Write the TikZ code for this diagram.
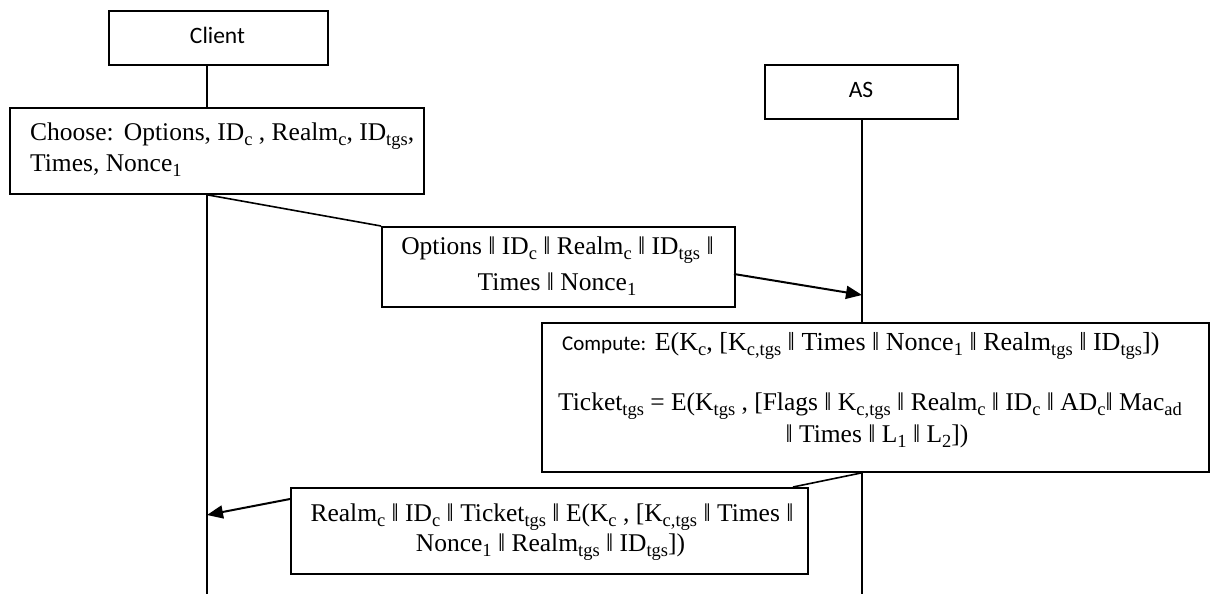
\documentclass[tikz,border=0pt]{standalone}
\usepackage{fontspec}
\setmainfont{Liberation Serif}
\newfontfamily\sansf{Carlito}
\usetikzlibrary{arrows.meta}
\newcommand\lo[1]{\raisebox{-0.21em}{\fontsize{18.5}{18.5}\selectfont #1}}
\newcommand\dbar{‖}
\tikzset{
  box/.style={draw, line width=1.8pt, rectangle, inner sep=0pt, anchor=north west},
  life/.style={line width=1.3pt},
  link/.style={line width=1.6pt},
  msg/.style={line width=2pt, -{Triangle[length=16pt,width=13pt]}},
  txt/.style={inner sep=0pt, font=\fontsize{25.5}{30}\selectfont},
  stxt/.style={inner sep=0pt, font=\sansf\fontsize{23.5}{28}\selectfont},
}
\begin{document}
\begin{tikzpicture}[x=1pt,y=-1pt]
\useasboundingbox (0,0) rectangle (1211,594);
% boxes
\node[box, minimum width=219pt, minimum height=54pt] (client) at (108,10) {};
\node[box, minimum width=414pt, minimum height=86pt] (choose) at (9,107) {};
\node[box, minimum width=193pt, minimum height=54pt] (as) at (764,64) {};
\node[box, minimum width=353pt, minimum height=80pt] (msg1) at (381,226) {};
\node[box, minimum width=667pt, minimum height=149pt] (compute) at (541,322) {};
\node[box, minimum width=517pt, minimum height=86pt] (msg2) at (290,487) {};
% lifeline reference coordinates
\coordinate (cl) at (207,0);
\coordinate (al) at (862,0);
\coordinate (cbot) at (207,594);
\coordinate (abot) at (862,594);
\coordinate (a1e) at (862,295);
\coordinate (a2s) at (290,499);
\coordinate (a2e) at (207,515);
\coordinate (a1s) at (734,274);
\coordinate (l2e) at (793,487);
% lifelines
\draw[life] (client.south -| cl) -- (choose.north -| cl);
\draw[life] (choose.south -| cl) -- (cbot);
\draw[life] (as.south -| al) -- (compute.north -| al);
\draw[life] (compute.south -| al) -- (abot);
% connectors
\draw[link] (choose.south -| cl) -- (msg1.north west);
\draw[msg] (a1s) -- (a1e);
\draw[link] (compute.south -| al) -- (l2e);
\draw[msg] (a2s) -- (a2e);
% texts
\node[stxt, anchor=base] (clientT) at (217.5,44) {Client};
\node[stxt, anchor=base] (asT) at (861,97) {AS};
\node[txt, anchor=base west] (chooseA) at (30,140) {Choose:\hspace{0.4em}Options, ID\lo{c} , Realm\lo{c}, ID\lo{tgs},};
\node[txt, anchor=base west] (chooseB) at (30,171) {Times, Nonce\lo{1}};
\node[txt, anchor=base] (msg1A) at (557.5,254) {Options \dbar{} ID\lo{c} \dbar{} Realm\lo{c} \dbar{} ID\lo{tgs} \dbar};
\node[txt, anchor=base] (msg1B) at (557,290) {Times \dbar{} Nonce\lo{1}};
\node[txt, anchor=base west, font=\fontsize{26}{30}\selectfont] (computeA) at (562,350) {{\sansf\fontsize{21}{25}\selectfont Compute:} E(K\lo{c}, [K\lo{c,tgs} \dbar{} Times \dbar{} Nonce\lo{1} \dbar{} Realm\lo{tgs} \dbar{} ID\lo{tgs}])};
\node[txt, anchor=base] (computeB) at (870,410) {Ticket\lo{tgs} = E(K\lo{tgs} , [Flags \dbar{} K\lo{c,tgs} \dbar{} Realm\lo{c} \dbar{} ID\lo{c} \dbar{} AD\lo{c}\dbar{} Mac\lo{ad}};
\node[txt, anchor=base] (computeC) at (877,442) {\dbar{} Times \dbar{} L\lo{1} \dbar{} L\lo{2}])};
\node[txt, anchor=base] (msg2A) at (552,521) {Realm\lo{c} \dbar{} ID\lo{c} \dbar{} Ticket\lo{tgs} \dbar{} E(K\lo{c} , [K\lo{c,tgs} \dbar{} Times \dbar};
\node[txt, anchor=base] (msg2B) at (550.5,551) {Nonce\lo{1} \dbar{} Realm\lo{tgs} \dbar{} ID\lo{tgs}])};
\end{tikzpicture}
\end{document}
